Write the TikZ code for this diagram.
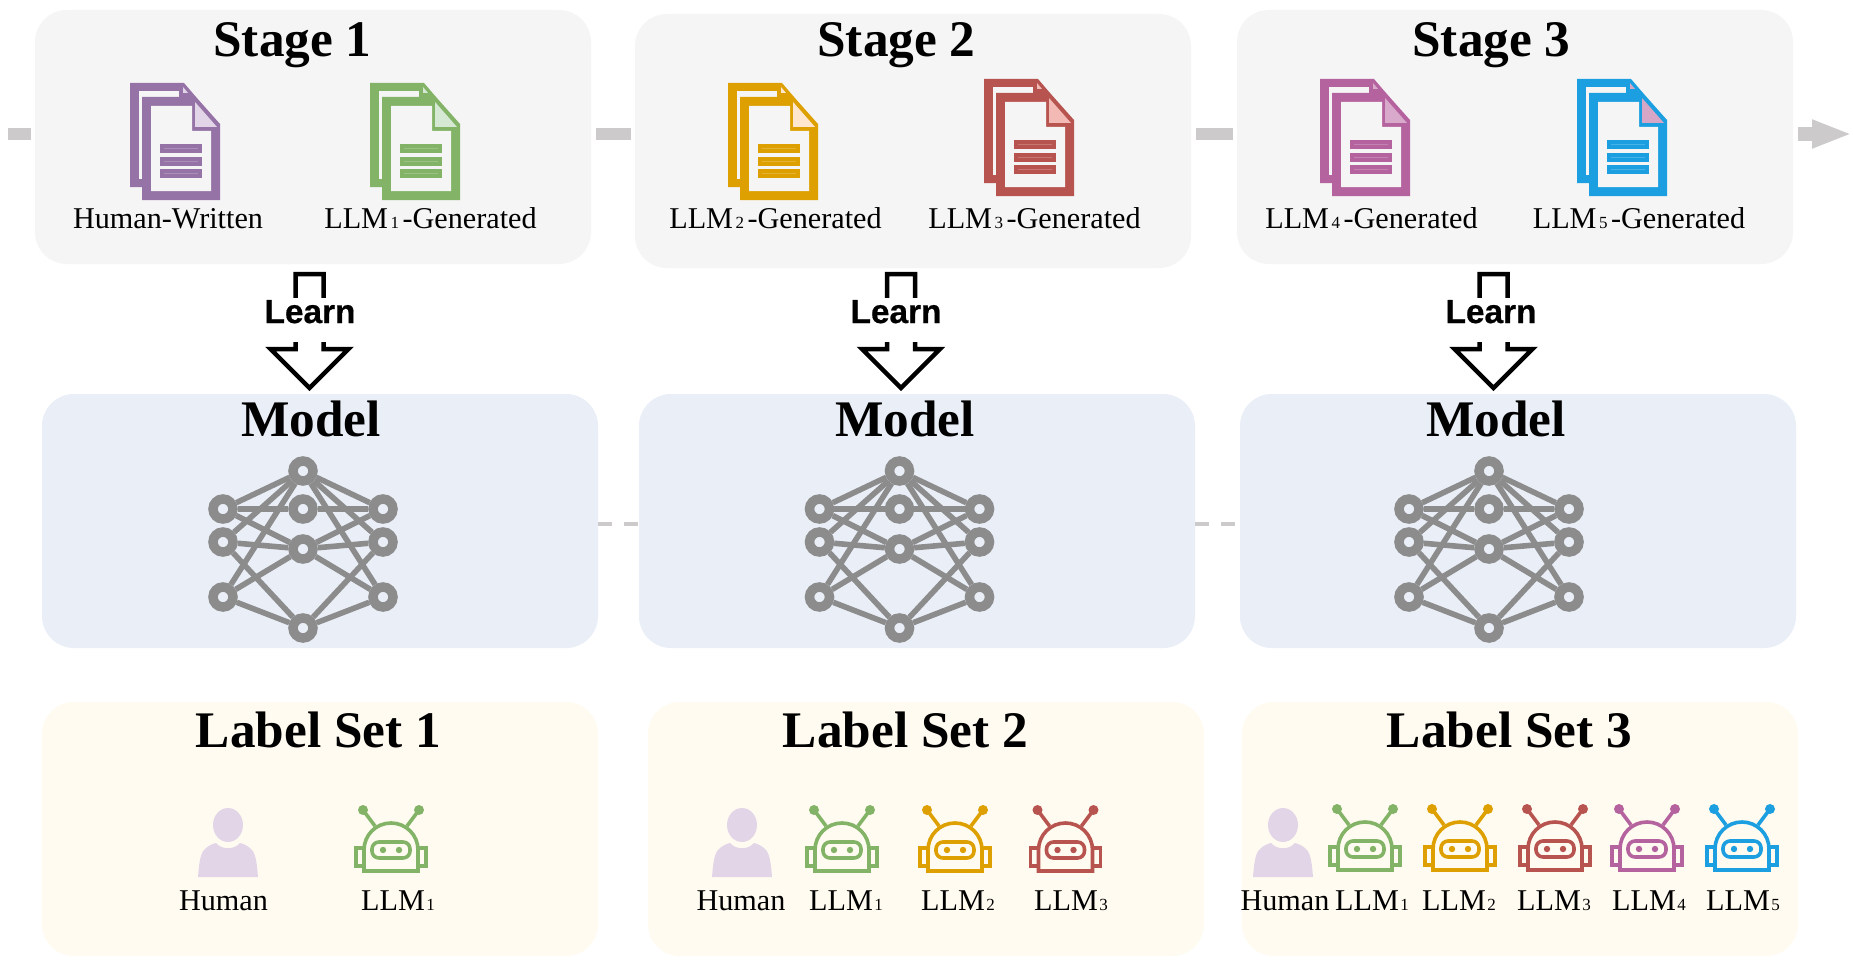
\documentclass[tikz,border=0pt]{standalone}
\usepackage{fontspec}
\setmainfont{Liberation Serif}
\newfontfamily\learnfont{Liberation Sans}[BoldFeatures={FakeBold=0.6}]
\usetikzlibrary{arrows.meta}
\definecolor{cpurple}{HTML}{9673A6}
\definecolor{cgreen}{HTML}{82B366}
\definecolor{corange}{HTML}{DDA000}
\definecolor{cred}{HTML}{B85450}
\definecolor{cmag}{HTML}{B5639F}
\definecolor{cblue}{HTML}{1B9FE0}
\definecolor{fpurple}{HTML}{E1D5E7}
\definecolor{fgreen}{HTML}{D5E8D4}
\definecolor{forange}{HTML}{FFE6CC}
\definecolor{fred}{HTML}{F3B9B5}
\definecolor{fmag}{HTML}{D9A9CC}
\definecolor{fblue}{HTML}{D5A6C5}
\definecolor{stagebg}{HTML}{F5F5F5}
\definecolor{modelbg}{HTML}{E9EEF7}
\definecolor{labelbg}{HTML}{FFFBF0}
\definecolor{flowgray}{HTML}{CCCACB}
\definecolor{nngray}{HTML}{8C8C8C}
\newcommand{\lsub}[1]{\kern1.5pt{\fontsize{17}{17}\selectfont #1}}
\newcommand{\gsub}[1]{\kern2.5pt{\fontsize{17}{17}\selectfont #1}\kern3.5pt}
\newcommand{\panel}[6]{%
  \node[panelbox,fill=#6,minimum width=#4pt-#2pt,minimum height=#5pt-#3pt] (#1) at ({(#2+#4)/2},{(#3+#5)/2}) {};}
\newcommand{\docicon}[4]{%
 \begin{scope}[shift={(#1,#2)}]
  \fill[#3] (0,0)--(54,0)--(66,14)--(66,104)--(0,104)--cycle;
  \fill[stagebg] (9,8)--(49,8)--(49,96)--(9,96)--cycle;
  \fill[#4] (53,4)--(58,10)--(53,10)--cycle;
  \fill[#3] (12,14)--(66,14)--(90,41)--(90,117)--(12,117)--cycle;
  \fill[stagebg] (21,23)--(62,23)--(62,48)--(81,48)--(81,108)--(21,108)--cycle;
  \fill[#4] (65,19)--(87,44)--(65,44)--cycle;
  \fill[#3] (30,61) rectangle (72,70);
  \fill[#3] (30,74) rectangle (72,83);
  \fill[#3] (30,86) rectangle (72,95);
  \draw[white,opacity=.2,line width=1pt] (34,65.5)--(68,65.5) (34,78.5)--(68,78.5) (34,90.5)--(68,90.5);
 \end{scope}}
\newcommand{\learnarrow}[3]{%
 \draw[learnline] (#1-14,274)--(#1+14,274)--(#1+14,349)--(#1+39,349)--(#1,388)--(#1-39,349)--(#1-14,349)--cycle;
 \node[learnlabel] (#3) at (#2,323) {Learn};}
\newcommand{\nnet}[2]{%
 \foreach \n/\x/\y in {t/0/471,m/0/509,n/0/549,b/0/628,l1/-80/509,l2/-80/542,l3/-80/597,r1/80/509,r2/80/542,r3/80/597}
   {\node[nnnode] (#1\n) at (#2+\x,\y) {};}
 \foreach \a/\b in {t/l1,t/l2,t/l3,t/r1,t/r2,t/r3,m/l1,m/r1,n/l1,n/l2,n/l3,n/r1,n/r2,n/r3,b/l2,b/l3,b/r2,b/r3}
   {\draw[nnedge] (#1\a)--(#1\b);}}
\newcommand{\humanicon}[2]{%
 \begin{scope}[shift={(#1,#2)}]
  \fill[fpurple] (0,-52) ellipse [x radius=15,y radius=17];
  \fill[fpurple] (-30,0) .. controls (-29,-12) and (-28,-24) .. (-23,-28) .. controls (-20,-31) and (-16,-33) .. (-12,-34) .. controls (-6,-27) and (6,-27) .. (12,-34) .. controls (16,-33) and (20,-31) .. (23,-28) .. controls (28,-24) and (29,-12) .. (30,0) -- cycle;
 \end{scope}}
\newcommand{\roboticon}[3]{%
 \begin{scope}[shift={(#1,#2)},draw=#3,line width=3.6pt]
  \draw (-27,0)--(-27,-21) .. controls (-27,-36) and (-15,-48) .. (0,-48) .. controls (15,-48) and (27,-36) .. (27,-21)--(27,0)--cycle;
  \draw (-27,-23)--(-35,-23)--(-35,-5)--(-27,-5);
  \draw (27,-23)--(35,-23)--(35,-5)--(27,-5);
  \draw[rounded corners=7pt] (-19,-29) rectangle (19,-13);
  \fill[#3] (-8,-21) circle [radius=3.2];
  \fill[#3] (8,-21) circle [radius=3.2];
  \draw (-16,-45)--(-28,-61);
  \draw (16,-45)--(28,-61);
  \fill[#3] (-28,-61) circle [radius=5];
  \fill[#3] (28,-61) circle [radius=5];
 \end{scope}}
\begin{document}
\begin{tikzpicture}[x=1pt,y=-1pt,
  panelbox/.style={rectangle,rounded corners=32pt,inner sep=0pt,outer sep=0pt,draw=none},
  bigtitle/.style={anchor=base,inner sep=0pt,font=\fontsize{51.3}{51.3}\selectfont\bfseries},
  smalllabel/.style={anchor=base,inner sep=0pt,font=\fontsize{30.2}{30.2}\selectfont},
  learnline/.style={draw=black,line width=4.5pt,miter limit=10},
  learnlabel/.style={anchor=base,fill=white,inner sep=0pt,text height=25pt,text depth=19pt,font=\fontsize{33.4}{33.4}\selectfont\learnfont\bfseries},
  nnnode/.style={circle,draw=nngray,fill=modelbg,line width=9.5pt,minimum size=20pt,inner sep=0pt},
  nnedge/.style={draw=nngray,line width=5.6pt},
  flowline/.style={draw=flowgray,line width=12.5pt},
  flowhead/.style={draw=flowgray,line width=14pt,-{Triangle[length=40pt,width=26pt,fill=flowgray]}},
  modeldash/.style={draw=flowgray,line width=4.5pt,dash pattern=on 14pt off 12pt}]
\useasboundingbox (0,0) rectangle (1853,963);
\fill[white] (0,0) rectangle (1853,963);
% panels
\panel{stageA}{35}{10}{591}{264}{stagebg}
\panel{stageB}{635}{14}{1191}{268}{stagebg}
\panel{stageC}{1237}{10}{1793}{264}{stagebg}
\panel{modelA}{42}{394}{598}{648}{modelbg}
\panel{modelB}{639}{394}{1195}{648}{modelbg}
\panel{modelC}{1240}{394}{1796}{648}{modelbg}
\panel{setA}{42}{702}{598}{956}{labelbg}
\panel{setB}{648}{702}{1204}{956}{labelbg}
\panel{setC}{1242}{702}{1798}{956}{labelbg}
% flow
\coordinate (f0a) at (8,134); \coordinate (f0b) at (31,134);
\coordinate (f1a) at (596,134); \coordinate (f1b) at (631,134);
\coordinate (f2a) at (1196,134); \coordinate (f2b) at (1233,134);
\coordinate (f3a) at (1798,134); \coordinate (f3b) at (1852,134);
\draw[flowline] (f0a)--(f0b);
\draw[flowline] (f1a)--(f1b);
\draw[flowline] (f2a)--(f2b);
\draw[flowhead] (f3a)--(f3b);
\draw[modeldash] (modelA.east |- 0,524)--(modelB.west |- 0,524);
\draw[modeldash] (modelB.east |- 0,524)--(modelC.west |- 0,524);
% stage titles
\node[bigtitle] (st1) at (292.5,57) {Stage 1};
\node[bigtitle] (st2) at (896.5,57) {Stage 2};
\node[bigtitle] (st3) at (1491.5,57) {Stage 3};
% documents
\docicon{130}{83}{cpurple}{fpurple}
\docicon{370}{83}{cgreen}{fgreen}
\docicon{728}{83}{corange}{forange}
\docicon{984}{79}{cred}{fred}
\docicon{1320}{79}{cmag}{fmag}
\docicon{1577}{79}{cblue}{fblue}
\node[smalllabel] (dl1) at (168,228.5) {Human-Written};
\node[smalllabel] (dl2) at (430.5,228.5) {LLM\gsub{1}-Generated};
\node[smalllabel] (dl3) at (775.5,228.5) {LLM\gsub{2}-Generated};
\node[smalllabel] (dl4) at (1034.5,228.5) {LLM\gsub{3}-Generated};
\node[smalllabel] (dl5) at (1371.5,228.5) {LLM\gsub{4}-Generated};
\node[smalllabel] (dl6) at (1639,228.5) {LLM\gsub{5}-Generated};
% learn arrows
\learnarrow{309.5}{310}{learnA}
\learnarrow{901}{896}{learnB}
\learnarrow{1493.5}{1491}{learnC}
% models
\node[bigtitle] (mt1) at (311,436) {Model};
\node[bigtitle] (mt2) at (905,436) {Model};
\node[bigtitle] (mt3) at (1496,436) {Model};
\nnet{na}{303}
\nnet{nb}{899.5}
\nnet{nc}{1489}
% label sets
\node[bigtitle] (ls1) at (318.5,747) {Label Set 1};
\node[bigtitle] (ls2) at (905.5,747) {Label Set 2};
\node[bigtitle] (ls3) at (1509.5,747) {Label Set 3};
\humanicon{228}{877}
\roboticon{391}{871}{cgreen}
\humanicon{742}{877}
\roboticon{842}{871}{cgreen}
\roboticon{955}{871}{corange}
\roboticon{1065.5}{871}{cred}
\humanicon{1283}{877}
\roboticon{1365}{870}{cgreen}
\roboticon{1460}{870}{corange}
\roboticon{1555}{870}{cred}
\roboticon{1647}{870}{cmag}
\roboticon{1742}{870}{cblue}
\node[smalllabel] (h1) at (223.5,910) {Human};
\node[smalllabel] (a1) at (398,910) {LLM\lsub{1}};
\node[smalllabel] (h2) at (741,910) {Human};
\node[smalllabel] (b1) at (846,910) {LLM\lsub{1}};
\node[smalllabel] (b2) at (958,910) {LLM\lsub{2}};
\node[smalllabel] (b3) at (1071,910) {LLM\lsub{3}};
\node[smalllabel] (h3) at (1285,910) {Human};
\node[smalllabel] (c1) at (1372,910) {LLM\lsub{1}};
\node[smalllabel] (c2) at (1459,910) {LLM\lsub{2}};
\node[smalllabel] (c3) at (1554,910) {LLM\lsub{3}};
\node[smalllabel] (c4) at (1649,910) {LLM\lsub{4}};
\node[smalllabel] (c5) at (1743,910) {LLM\lsub{5}};
\end{tikzpicture}
\end{document}
